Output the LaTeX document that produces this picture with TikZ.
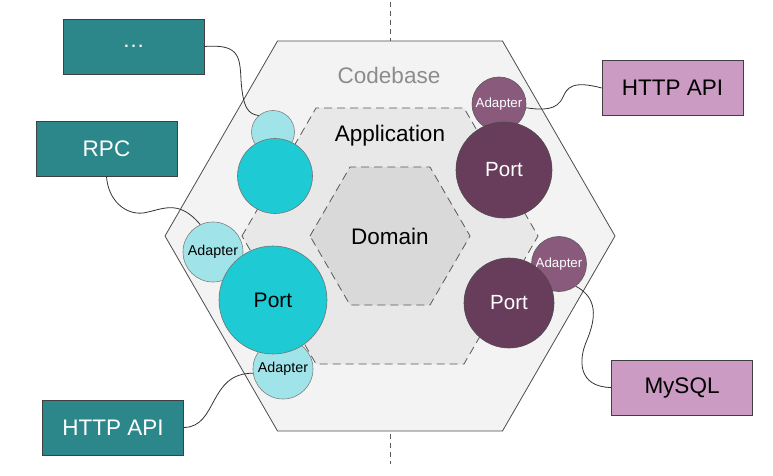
\documentclass[tikz,border=0pt]{standalone}
\usepackage{fontspec}
\setmainfont{Liberation Sans}
\definecolor{tealc}{HTML}{2B8789}
\definecolor{pinkc}{HTML}{CC9BC4}
\definecolor{cyanc}{HTML}{1ECBD4}
\definecolor{lcyanc}{HTML}{A0E4E9}
\definecolor{dpurp}{HTML}{683D5C}
\definecolor{apurp}{HTML}{8A5A7C}
\definecolor{hexout}{HTML}{F3F3F3}
\definecolor{hexmid}{HTML}{E8E8E8}
\definecolor{hexin}{HTML}{D9D9D9}
\begin{document}
\begin{tikzpicture}[x=1pt,y=-1pt,
  hexline/.style={draw=black!70, line width=0.8pt},
  dashhex/.style={draw=black!65, line width=0.8pt, dash pattern=on 8pt off 5pt},
  boxbase/.style={draw=black!75, line width=0.7pt, minimum width=141pt, minimum height=55pt, inner sep=0pt, font=\fontsize{22.5}{26}\selectfont},
  tealbox/.style={boxbase, fill=tealc, text=white},
  pinkbox/.style={boxbase, fill=pinkc, text=black},
  circbase/.style={circle, inner sep=0pt, line width=0.6pt},
  cyanport/.style={circbase, fill=cyanc, draw=black!55, font=\fontsize{21}{24}\selectfont},
  cyanadapt/.style={circbase, fill=lcyanc, draw=black!50, font=\fontsize{14.3}{16}\selectfont},
  purpport/.style={circbase, fill=dpurp, draw=black!70, text=white, font=\fontsize{20.5}{24}\selectfont},
  purpadapt/.style={circbase, fill=apurp, draw=black!65, text=white, font=\fontsize{13.3}{15}\selectfont},
  wire/.style={draw=black!80, line width=0.8pt},
  hexlabel/.style={font=\fontsize{22.5}{26}\selectfont}
]
\useasboundingbox (0,0) rectangle (773,476);
% vertical dashed axis
\coordinate (vtop) at (390,2);
\coordinate (vbot) at (390,464);
\draw[black!65, line width=0.8pt, dash pattern=on 5pt off 4pt] (vtop) -- (vbot);
% hexagons
\draw[hexline, fill=hexout] (165,236) -- (277.5,41) -- (502.5,41) -- (615,236) -- (502.5,431) -- (277.5,431) -- cycle;
\draw[dashhex, fill=hexmid] (242,236) -- (316,108) -- (464,108) -- (538,236) -- (464,364) -- (316,364) -- cycle;
\draw[dashhex, fill=hexin] (310,236) -- (350,167) -- (430,167) -- (470,236) -- (430,305) -- (350,305) -- cycle;
\node[hexlabel, text=black!45] (codebase) at (389,75) {Codebase};
\node[hexlabel] (application) at (390,136) {Application};
\node[hexlabel] (domain) at (390,236) {Domain};
% boxes
\node[tealbox] (dots) at (133.5,46.5) {…};
\node[tealbox] (rpc) at (106.5,148.5) {RPC};
\node[tealbox] (httpL) at (113,427.5) {HTTP API};
\node[pinkbox] (httpR) at (672.5,88) {HTTP API};
\node[pinkbox] (mysql) at (682,387.5) {MySQL};
% adapters
\node[cyanadapt, minimum size=43pt] (aTL) at (273,132) {};
\node[cyanadapt, minimum size=60pt] (aL) at (213,252) {Adapter};
\node[cyanadapt, minimum size=60pt] (aB) at (283,369) {Adapter};
\node[purpadapt, minimum size=54pt] (aTR) at (499,104) {Adapter};
\node[purpadapt, minimum size=55pt] (aBR) at (559,264) {Adapter};
% ports
\node[cyanport, minimum size=75pt] (pTL) at (275,176) {};
\node[cyanport, minimum size=108pt] (pL) at (273,300) {Port};
\node[purpport, minimum size=96pt] (pTR) at (504,170) {Port};
\node[purpport, minimum size=90pt] (pBR) at (509,303) {Port};
% connectors
\draw[wire] (dots.east) .. controls (238,44) and (240,55) .. (241,80) .. controls (243,108) and (248,114) .. (aTL.131);
\draw[wire] (rpc.south) .. controls (108,200) and (125,215) .. (143,213) .. controls (162,210) and (178,198) .. (aL.115);
\draw[wire] (httpL.east) .. controls (218,427) and (208,373) .. (aB.188);
\draw[wire] (httpR.west) .. controls (572,80) and (567,88) .. (563,97) .. controls (557,111) and (542,110) .. (aTR.-8);
\draw[wire] (mysql.west) .. controls (578,387) and (578,360) .. (587,340) .. controls (596,318) and (598,298) .. (aBR.-53);
\end{tikzpicture}
\end{document}
